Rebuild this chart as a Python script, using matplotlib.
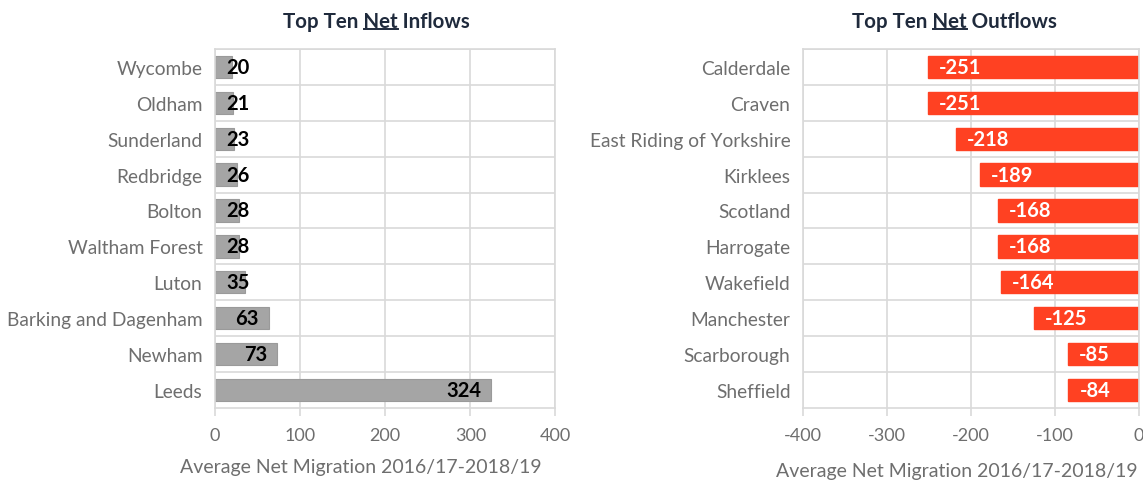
import numpy as np
import matplotlib.pyplot as plt
from matplotlib.lines import Line2D

plt.rcParams['font.family'] = ['Lato', 'DejaVu Sans']

in_names = ['Wycombe', 'Oldham', 'Sunderland', 'Redbridge', 'Bolton',
            'Waltham Forest', 'Luton', 'Barking and Dagenham', 'Newham', 'Leeds']
in_vals = [20, 21, 23, 26, 28, 28, 35, 63, 73, 324]

out_names = ['Calderdale', 'Craven', 'East Riding of Yorkshire', 'Kirklees',
             'Scotland', 'Harrogate', 'Wakefield', 'Manchester',
             'Scarborough', 'Sheffield']
out_vals = [-251, -251, -218, -189, -168, -168, -164, -125, -85, -84]

xlabel = 'Average Net Migration 2016/17-2018/19'
grid_col = '#d9d9d9'
txt_col = '#6e6e6e'
title_col = '#1f2a3c'

fig = plt.figure(figsize=(11.43, 4.81), dpi=100)
ax1 = fig.add_axes([0.188, 0.150, 0.298, 0.746])
ax2 = fig.add_axes([0.7025, 0.150, 0.294, 0.746])


def style(ax, n, xlim, ticks, lab_x, lab_y):
    ax.set_xlim(*xlim)
    ax.set_ylim(n - 0.5, -0.5)
    ax.set_xticks(ticks)
    ax.set_xticklabels([str(t) for t in ticks])
    # separators between categories
    ax.set_yticks(np.arange(n) - 0.5, minor=True)
    ax.grid(True, axis='x', color=grid_col, linewidth=1.2)
    ax.grid(True, axis='y', which='minor', color=grid_col, linewidth=1.2)
    ax.set_axisbelow(True)
    for s in ax.spines.values():
        s.set_color(grid_col)
        s.set_linewidth(1.2)
    ax.tick_params(axis='x', colors=grid_col, labelcolor=txt_col,
                   labelsize=13, length=6, width=1.2, pad=8)
    ax.tick_params(axis='y', which='both', length=0, labelcolor=txt_col,
                   labelsize=13.8, pad=9)
    ax.set_xlabel(xlabel, fontsize=14, color=txt_col)
    ax.xaxis.set_label_coords(lab_x, lab_y)


y = np.arange(len(in_vals))
ax1.barh(y, in_vals, height=0.62, color='#a5a5a5', edgecolor='#9a9a9a',
         linewidth=0.8)
ax1.set_yticks(y)
ax1.set_yticklabels(in_names)
style(ax1, len(in_vals), (0, 400), [0, 100, 200, 300, 400], 0.428, -0.139)
for yi, v in zip(y, in_vals):
    if v < 50:
        ax1.annotate(str(v), (0, yi), xytext=(8.5, 0), textcoords='offset points',
                     ha='left', va='center', fontsize=14.5, fontweight='bold',
                     color='black')
    else:
        ax1.annotate(str(v), (v, yi), xytext=(-7, 0), textcoords='offset points',
                     ha='right', va='center', fontsize=14.5, fontweight='bold',
                     color='black')

y2 = np.arange(len(out_vals))
ax2.barh(y2, out_vals, height=0.62, color='#ff4122', edgecolor='#ff4122')
ax2.set_yticks(y2)
ax2.set_yticklabels(out_names)
style(ax2, len(out_vals), (-400, 0), [-400, -300, -200, -100, 0], 0.458, -0.150)
for yi, v in zip(y2, out_vals):
    ax2.annotate(str(v), (v, yi), xytext=(8, 0), textcoords='offset points',
                 ha='left', va='center', fontsize=14.5, fontweight='bold',
                 color='white')

# titles with underlined "Net"
fig.canvas.draw()
renderer = fig.canvas.get_renderer()
for ax, word, tx in [(ax1, 'Inflows', 0.475), (ax2, 'Outflows', 0.452)]:
    t = ax.set_title('Top Ten Net ' + word, fontsize=14.8, fontweight='bold',
                     color=title_col, pad=16)
    t.set_x(tx)
    fig.canvas.draw()
    bb = t.get_window_extent(renderer)
    pre = fig.text(0, 0, 'Top Ten ', fontsize=14.8, fontweight='bold')
    net = fig.text(0, 0, 'Net', fontsize=14.8, fontweight='bold')
    w_pre = pre.get_window_extent(renderer).width
    w_net = net.get_window_extent(renderer).width
    pre.remove()
    net.remove()
    x0 = (bb.x0 + w_pre) / fig.bbox.width
    x1 = (bb.x0 + w_pre + w_net) / fig.bbox.width
    yl = (bb.y0 + 2) / fig.bbox.height
    fig.add_artist(Line2D([x0, x1], [yl, yl], color=title_col, linewidth=1.4,
                          transform=fig.transFigure))

fig.savefig('out.png', dpi=100)
